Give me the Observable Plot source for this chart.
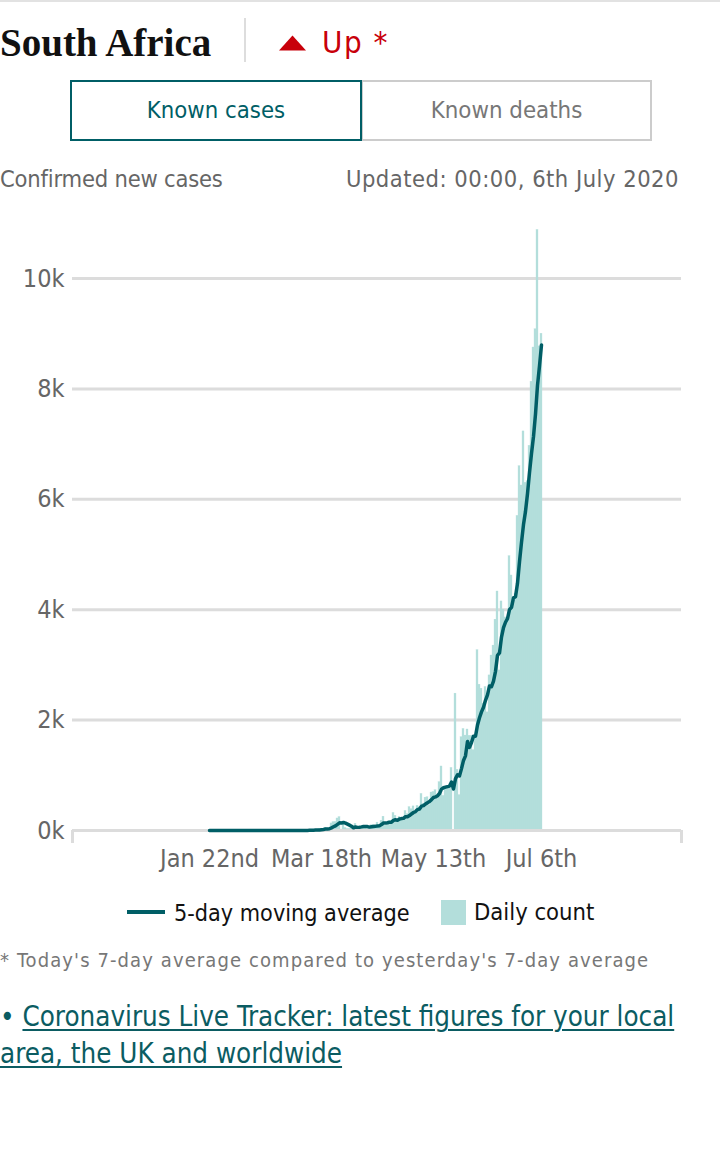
<!DOCTYPE html>
<html>
<head>
<meta charset="utf-8">
<script src="https://cdn.jsdelivr.net/npm/d3@7"></script>
<script src="https://cdn.jsdelivr.net/npm/@observablehq/plot@0.6"></script>
<style>
  html, body { margin: 0; padding: 0; background: #fff; }
  body { width: 720px; height: 1150px; position: relative; overflow: hidden;
         font-family: "Liberation Sans Narrow", "DejaVu Sans Condensed", "Roboto", sans-serif; }
  .abs { position: absolute; white-space: nowrap; }
  #chart { position: absolute; left: 0; top: 200px; }
</style>
</head>
<body>
<div class="abs" style="left:0;top:0;width:720px;height:2px;background:#e2e2e2"></div>
<div class="abs" style="left:0;top:23px;font:bold 39px/39px 'Liberation Serif',serif;color:#111;">South Africa</div>
<div class="abs" style="left:244px;top:18px;width:2px;height:44px;background:#dddddd"></div>
<svg class="abs" style="left:279px;top:35px" width="28" height="16"><polygon points="0,15.5 13.5,0.5 27,15.5" fill="#c8000a"/></svg>
<div class="abs" style="left:322px;top:27px;font-size:31px;line-height:31px;color:#c8000a;letter-spacing:1.5px">Up *</div>

<div class="abs" style="left:361px;top:80px;width:291px;height:61px;box-sizing:border-box;border:2px solid #cccccc;text-align:center;line-height:57px;font-size:23.8px;color:#777">Known deaths</div>
<div class="abs" style="left:70px;top:80px;width:292px;height:61px;box-sizing:border-box;border:2px solid #005e66;text-align:center;line-height:57px;font-size:23.7px;color:#005e66;background:#fff">Known cases</div>

<div class="abs" style="left:0;top:168px;font-size:23.5px;line-height:23.5px;letter-spacing:-0.2px;color:#666">Confirmed new cases</div>
<div class="abs" style="right:41px;top:168px;font-size:23.5px;line-height:23.5px;letter-spacing:0.5px;color:#666">Updated: 00:00, 6th July 2020</div>

<div id="chart"></div>

<div class="abs" style="left:127px;top:910px;width:38px;height:4px;background:#005e66"></div>
<div class="abs" style="left:174px;top:901px;font-size:23.2px;line-height:23.2px;color:#111">5-day moving average</div>
<div class="abs" style="left:441px;top:900px;width:25px;height:25px;background:#b3dedb"></div>
<div class="abs" style="left:474px;top:901px;font-size:23.6px;line-height:23.6px;color:#111">Daily count</div>

<div class="abs" style="left:0;top:950px;font-size:20px;line-height:20px;letter-spacing:1.1px;color:#777">* Today's 7-day average compared to yesterday's 7-day average</div>

<div class="abs" style="left:0;top:998px;font-size:27.5px;line-height:37px;color:#0b5c62">• <span style="text-decoration:underline;text-decoration-thickness:2px;text-underline-offset:3px">Coronavirus Live Tracker: latest figures for your local<br>area, the UK and worldwide</span></div>

<script>
// ---- data ----
const startDate = "2020-01-22";   // first date of the daily series
// Daily confirmed new cases, one value per day from startDate to 6 July 2020
const janFebCases = [
  0,0,0,0,0,0,0,0,0,0,                      // Jan 22-31
  0,0,0,0,0,0,0,0,0,0,0,0,0,0,0,0,0,0,0,0,0,0,0,0,0,0,0,0,0  // Feb
];
const marchCases = [0,0,0,0,1,0,1,1,4,0,6,4,7,14,13,11,23,31,34,52,38,34,128,152,155,218,243,17,102,46,27];
const aprilCases = [27,82,43,123,49,69,68,83,79,28,54,95,99,86,143,99,178,251,88,133,165,142,318,267,178,247,192,196,354,297];
const mayCases = [424,385,437,306,447,424,663,487,595,602,458,688,698,730,637,876,1160,627,767,773,803,1134,0,2480,1100,640,1690,1840,1720,1830,1716];
const juneCases = [1716,1455,1674,3267,2642,2570,2300,2600,2140,2810,3170,3350,3820,4330,2900,4150,4000,3860,3800,4970,4620,4100,4290,5700,6600,6250,7230,6300,6330,6970];
const julyCases = [8130,8750,9080,10880,8770,9000];

const xTickDates = ["2020-01-22", "2020-03-18", "2020-05-13", "2020-07-06"];
const xTickLabels = ["Jan 22nd", "Mar 18th", "May 13th", "Jul 6th"];
const yTicks = [0, 2000, 4000, 6000, 8000, 10000];
const yTickLabels = ["0k", "2k", "4k", "6k", "8k", "10k"];

// trailing window of the drawn average line (as the picture's line follows)
const averageWindow = 7;

// ---- build table ----
const DAY = 864e5;
const dailyCases = [...janFebCases, ...marchCases, ...aprilCases, ...mayCases, ...juneCases, ...julyCases];
const t0 = new Date(startDate + "T00:00:00Z").getTime();
const rows = dailyCases.map((v, i) => ({date: new Date(t0 + i * DAY), value: v}));
const first = rows[0].date.getTime();
const last = rows[rows.length - 1].date.getTime();
const xDomain = [new Date(first - 68.5 * DAY), new Date(last + 70 * DAY)];
const xTicks = xTickDates.map(s => new Date(s + "T00:00:00Z"));
const xLabelMap = new Map(xTicks.map((d, i) => [d.getTime(), xTickLabels[i]]));
const yLabelMap = new Map(yTicks.map((d, i) => [d, yTickLabels[i]]));

const FONT = '"Liberation Sans Narrow", "DejaVu Sans Condensed", Roboto, sans-serif';
const TEAL = "#005e66", LIGHT = "#b3dedb", GRID = "#dcdcdc";

const chart = Plot.plot({
  width: 720,
  height: 680,
  marginLeft: 72,
  marginRight: 39,
  marginTop: 22.8,
  marginBottom: 50,
  style: {fontFamily: FONT, fontSize: "25px", color: "#666", background: "transparent", overflow: "visible"},
  x: {type: "utc", domain: xDomain},
  y: {domain: [0, 11000]},
  marks: [
    Plot.gridY(yTicks, {stroke: GRID, strokeOpacity: 1, strokeWidth: 3}),
    Plot.rectY(rows, {
      x1: d => new Date(d.date.getTime() - DAY / 2),
      x2: d => new Date(d.date.getTime() + DAY / 2),
      y: "value", fill: LIGHT, stroke: LIGHT, strokeWidth: 0.3, insetLeft: 0, insetRight: 0
    }),
    Plot.ruleY([0], {stroke: GRID, strokeWidth: 3}),
    Plot.axisX(xDomain, {tickSize: 13, stroke: GRID, strokeWidth: 3, tickFormat: () => "", label: null}),
    Plot.lineY(rows, Plot.windowY({k: averageWindow, anchor: "end"}, {
      x: "date", y: "value", stroke: TEAL, strokeWidth: 3.5
    })),
    Plot.axisY(yTicks, {tickSize: 0, tickPadding: 8, tickFormat: d => yLabelMap.get(d), fill: "#666", label: null}),
    Plot.axisX(xTicks, {tickSize: 0, tickPadding: 19, tickFormat: d => xLabelMap.get(d.getTime()), fill: "#666", label: null})
  ]
});
document.getElementById("chart").appendChild(chart);
</script>
</body>
</html>
